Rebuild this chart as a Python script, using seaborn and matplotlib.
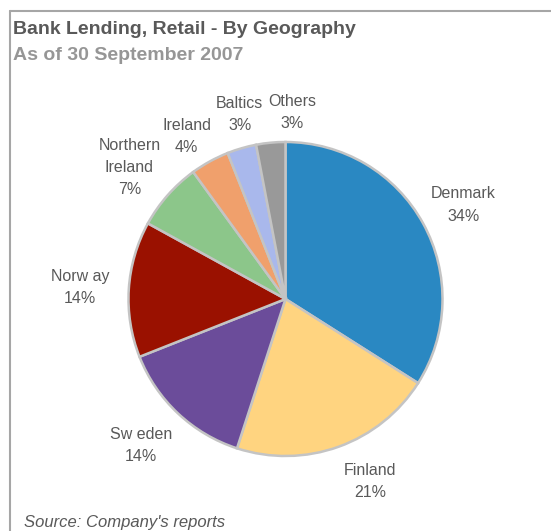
import numpy as np
import matplotlib
matplotlib.use("Agg")
import matplotlib.pyplot as plt
from matplotlib.lines import Line2D
import seaborn as sns

# Retail lending split by geography, 30 Sep 2007 (percent)
regions = ["Denmark", "Finland", "Sw eden", "Norw ay", "Northern\nIreland", "Ireland", "Baltics", "Others"]
shares = [34, 21, 14, 14, 7, 4, 3, 3]
colors = ["#2a88c2", "#ffd480", "#6b4c9a", "#9a1100", "#8cc68a", "#f0a06c", "#a9b8ec", "#999999"]

title = "Bank Lending, Retail - By Geography"
subtitle = "As of 30 September 2007"
source = "Source: Company's reports"

sns.set_theme(style="white")
plt.rcParams["font.family"] = ["Liberation Sans", "DejaVu Sans"]

W, H = 551, 531
fig = plt.figure(figsize=(W / 100, H / 100), dpi=100)
fig.patch.set_facecolor("white")

# pie axes: centre and radius in pixels
cx, cy, R = 285.5, 299.0, 157.0
ax = fig.add_axes([(cx - R) / W, (H - cy - R) / H, 2 * R / W, 2 * R / H])

wedges, _ = ax.pie(
    shares,
    colors=colors,
    startangle=90,
    counterclock=False,
    radius=1.0,
    wedgeprops=dict(edgecolor="#c4c4c4", linewidth=1.8),
)
ax.set_xlim(-1, 1)
ax.set_ylim(-1, 1)
ax.set_aspect("equal")
ax.axis("off")

# label placement: radial distance and small angular nudge per slice
dist = [1.28, 1.28, 1.31, 1.31, 1.30, 1.21, 1.21, 1.19]
nudge = [-0.9, 5.2, -1.5, 0.5, 1.3, 2.5, -2.3, -7.4]
for w, name, val, d, dn in zip(wedges, regions, shares, dist, nudge):
    th = np.deg2rad((w.theta1 + w.theta2) / 2 + dn)
    ax.text(d * np.cos(th), d * np.sin(th), f"{name}\n{val}%",
            ha="center", va="center", fontsize=11.5, color="#595959",
            linespacing=1.6, clip_on=False)

# outer frame (top and left edges)
fig.add_artist(Line2D([9.5 / W, 1.0], [1 - 10.5 / H, 1 - 10.5 / H],
                      transform=fig.transFigure, color="#a6a6a6", linewidth=1.5))
fig.add_artist(Line2D([9.5 / W, 9.5 / W], [0.0, 1 - 10.5 / H],
                      transform=fig.transFigure, color="#a6a6a6", linewidth=1.5))

fig.text(13 / W, 1 - 29 / H, title, fontsize=14, fontweight="bold",
         color="#595959", ha="left", va="center")
fig.text(13 / W, 1 - 55 / H, subtitle, fontsize=14, fontweight="bold",
         color="#969696", ha="left", va="center")
fig.text(24 / W, 1 - 522 / H, source, fontsize=12, style="italic",
         color="#595959", ha="left", va="center")

fig.savefig("out.png", dpi=100, facecolor="white")
